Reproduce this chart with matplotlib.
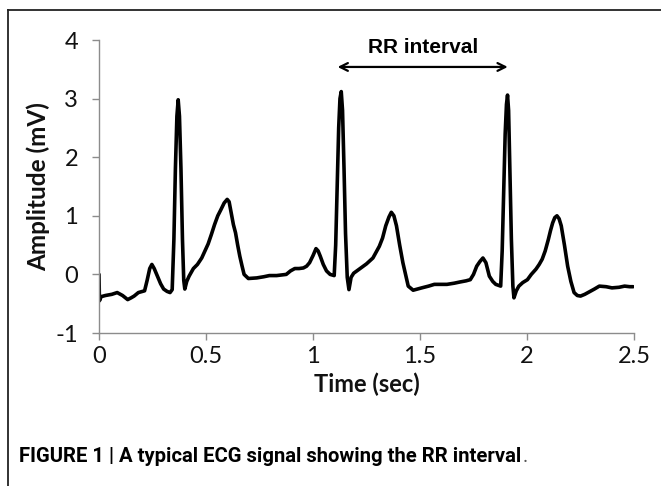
import matplotlib
matplotlib.use("Agg")
import matplotlib.pyplot as plt
from matplotlib.lines import Line2D

plt.rcParams['axes.unicode_minus'] = False

# ECG trace (time in s, amplitude in mV)
time_s = [0.000, 0.002, 0.010, 0.030, 0.060, 0.085, 0.110, 0.134, 0.150, 0.164,
          0.184, 0.213, 0.225, 0.237, 0.247, 0.258, 0.273, 0.288, 0.302, 0.318,
          0.332, 0.342, 0.350, 0.357, 0.364, 0.370, 0.376, 0.383, 0.390, 0.396,
          0.401, 0.410, 0.421, 0.441, 0.460, 0.480, 0.495, 0.510, 0.525, 0.540,
          0.555, 0.569, 0.585, 0.599, 0.608, 0.618, 0.628, 0.638, 0.648, 0.658,
          0.668, 0.678, 0.698, 0.737, 0.770, 0.796, 0.830, 0.875, 0.895, 0.915,
          0.935, 0.955, 0.970, 0.984, 1.000, 1.014, 1.024, 1.034, 1.048, 1.063,
          1.080, 1.099, 1.106, 1.113, 1.120, 1.126, 1.132, 1.138, 1.145, 1.152,
          1.160, 1.168, 1.178, 1.190, 1.205, 1.220, 1.250, 1.280, 1.310, 1.325,
          1.340, 1.355, 1.366, 1.378, 1.390, 1.405, 1.420, 1.445, 1.468, 1.508,
          1.540, 1.567, 1.600, 1.626, 1.660, 1.686, 1.715, 1.735, 1.750, 1.765,
          1.780, 1.794, 1.808, 1.824, 1.840, 1.854, 1.877, 1.884, 1.891, 1.898,
          1.904, 1.909, 1.914, 1.920, 1.927, 1.934, 1.939, 1.950, 1.962, 1.980,
          2.002, 2.020, 2.042, 2.057, 2.071, 2.085, 2.100, 2.110, 2.120, 2.130,
          2.140, 2.150, 2.160, 2.175, 2.190, 2.205, 2.220, 2.235, 2.250, 2.270,
          2.290, 2.315, 2.338, 2.370, 2.397, 2.430, 2.456, 2.480, 2.496]
amplitude_mv = [0.00, -0.45, -0.38, -0.36, -0.34, -0.31, -0.36, -0.43, -0.40, -0.37,
                -0.31, -0.28, -0.10, 0.10, 0.17, 0.10, -0.03, -0.16, -0.25, -0.29,
                -0.31, -0.26, 0.60, 1.80, 2.70, 2.98, 2.70, 1.80, 0.60, -0.10,
                -0.25, -0.12, -0.03, 0.10, 0.17, 0.28, 0.40, 0.52, 0.68, 0.85,
                1.00, 1.10, 1.22, 1.28, 1.24, 1.05, 0.85, 0.71, 0.50, 0.31,
                0.15, 0.00, -0.07, -0.06, -0.04, -0.02, -0.02, 0.00, 0.06, 0.10,
                0.10, 0.11, 0.14, 0.20, 0.32, 0.44, 0.40, 0.31, 0.17, 0.06,
                0.00, -0.02, 0.50, 1.50, 2.50, 3.00, 3.12, 2.80, 1.80, 0.70,
                -0.05, -0.26, -0.05, 0.02, 0.06, 0.10, 0.18, 0.28, 0.48, 0.62,
                0.83, 0.98, 1.06, 1.00, 0.83, 0.50, 0.20, -0.20, -0.27, -0.23,
                -0.20, -0.17, -0.17, -0.17, -0.15, -0.13, -0.11, -0.09, 0.00, 0.14,
                0.22, 0.28, 0.20, -0.03, -0.12, -0.17, -0.20, 0.40, 1.40, 2.40,
                2.90, 3.06, 2.80, 1.80, 0.60, -0.20, -0.40, -0.28, -0.20, -0.14,
                -0.09, 0.00, 0.09, 0.17, 0.26, 0.40, 0.60, 0.75, 0.88, 0.97,
                1.00, 0.95, 0.83, 0.50, 0.14, -0.12, -0.31, -0.36, -0.37, -0.34,
                -0.30, -0.25, -0.20, -0.21, -0.23, -0.22, -0.20, -0.21, -0.21]

x_ticks = [0, 0.5, 1, 1.5, 2, 2.5]
x_tick_labels = ["0", "0.5", "1", "1.5", "2", "2.5"]
y_ticks = [-1, 0, 1, 2, 3, 4]
y_tick_labels = ["-1", "0", "1", "2", "3", "4"]

# RR interval annotation (between 2nd and 3rd R peaks)
rr_start, rr_end, rr_level = 1.115, 1.91, 3.54
rr_label = "RR interval"

W, H = 661, 486
fig = plt.figure(figsize=(W / 100, H / 100), dpi=100)
fig.patch.set_facecolor("white")

# frame lines of the figure panel (top and left)
fig.add_artist(Line2D([8 / W, 1.0], [1 - 10 / H, 1 - 10 / H], transform=fig.transFigure,
                      color="#222222", lw=1.3))
fig.add_artist(Line2D([8 / W, 8 / W], [0.0, 1 - 10 / H], transform=fig.transFigure,
                      color="#222222", lw=1.3))

ax = fig.add_axes([99 / W, 1 - 333 / H, (634 - 99) / W, (333 - 40) / H])
ax.plot(time_s, amplitude_mv, color="black", lw=2.6, solid_joinstyle="round",
        solid_capstyle="round")

ax.set_xlim(0, 2.5)
ax.set_ylim(-1, 4)
ax.set_xticks(x_ticks)
ax.set_xticklabels(x_tick_labels)
ax.set_yticks(y_ticks)
ax.set_yticklabels(y_tick_labels)

for s in ["top", "right"]:
    ax.spines[s].set_visible(False)
for s in ["left", "bottom"]:
    ax.spines[s].set_color("#8c8c8c")
    ax.spines[s].set_linewidth(1.0)

ax.tick_params(axis="both", direction="out", length=5, width=1.0, color="#8c8c8c",
               labelcolor="#111111")
ax.tick_params(axis="y", pad=10)
ax.tick_params(axis="x", pad=4)
for lab in ax.get_xticklabels() + ax.get_yticklabels():
    lab.set_fontfamily("Lato")
    lab.set_fontsize(17)

ax.set_xlabel("Time (sec)", fontfamily="Lato", fontweight="bold", fontsize=17,
              color="#111111")
ax.xaxis.set_label_coords(0.5, (333 - 384) / (333 - 40))
ax.xaxis.label.set_va("center")
ax.set_ylabel("Amplitude (mV)", fontfamily="Lato", fontweight="bold", fontsize=17.5,
              color="#111111", va="center")
ax.yaxis.set_label_coords((38 - 99) / (634 - 99), 0.5)

ax.annotate("", xy=(rr_start, rr_level), xytext=(rr_end, rr_level),
            arrowprops=dict(arrowstyle="<->", color="black", lw=1.6,
                            shrinkA=0, shrinkB=0, mutation_scale=14),
            annotation_clip=False)
ax.text((rr_start + rr_end) / 2, 3.87, rr_label, ha="center", va="center",
        fontfamily="Liberation Sans", fontweight="bold", fontsize=15, color="black")

cap = fig.text(19 / W, 1 - 456 / H, "FIGURE 1 | A typical ECG signal showing the RR interval",
               ha="left", va="center", fontfamily="Roboto", fontweight="bold",
               fontsize=14.6, color="black")
fig.canvas.draw()
bb = cap.get_window_extent()
fig.text((bb.x1 + 1) / W, 1 - 456 / H, ".", ha="left", va="center",
         fontfamily="Roboto", fontsize=14.6, color="#555555")

fig.savefig("out.png", dpi=100, facecolor="white")
